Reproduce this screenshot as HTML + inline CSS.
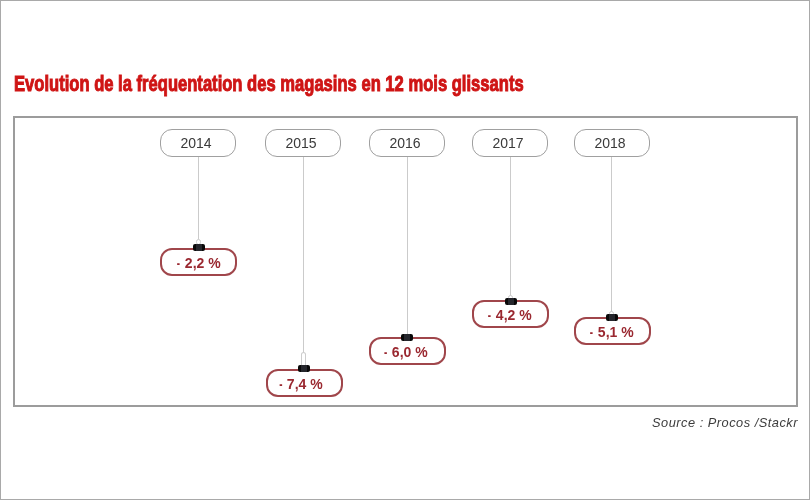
<!DOCTYPE html>
<html>
<head>
<meta charset="utf-8">
<style>
html,body{margin:0;padding:0;background:#fff;}
body{width:810px;height:500px;position:relative;overflow:hidden;font-family:"Liberation Sans",sans-serif;}
.frame{position:absolute;left:0;top:0;width:808px;height:498px;border:1px solid #a9a9a9;}
.title{position:absolute;left:13.6px;top:70.8px;white-space:nowrap;font-weight:bold;font-size:21.6px;color:#cf1515;transform-origin:0 0;line-height:26px;transform:scaleX(0.768);-webkit-text-stroke:1px #cf1515;}
.box{position:absolute;left:13px;top:116px;width:781px;height:287px;border:2px solid #9c9c9c;}
.yr{position:absolute;top:129px;width:70px;padding-right:4px;height:26px;border:1px solid #a0a0a0;border-radius:12px;text-align:center;font-size:14px;line-height:27px;color:#3a3a3a;}
.ln{position:absolute;width:1px;background:#cbcbcb;top:157px;}
.val{position:absolute;width:73px;height:24px;border:2px solid #a0464b;border-radius:12px;text-align:center;font-size:14px;font-weight:bold;line-height:26px;color:#9a2830;}
.d{display:inline-block;transform:scaleX(0.7);}
.clip{position:absolute;width:12px;height:7px;background:linear-gradient(to right,#080808 0,#080808 3px,#25262c 3px,#25262c 9px,#080808 9px);border-radius:2px;}
.ring{position:absolute;width:3px;height:3px;border:1px solid #cdcdcd;border-radius:3px;background:#fff;}
.src{position:absolute;right:12px;top:414.5px;font-style:italic;font-size:12.8px;letter-spacing:0.5px;color:#3c3c3c;white-space:nowrap;line-height:16px;}
</style>
</head>
<body>
<div class="frame"></div>
<div class="title" id="title">Evolution de la fréquentation des magasins en 12 mois glissants</div>
<div class="box"></div>

<div class="yr" style="left:160px">2014</div>
<div class="yr" style="left:265px">2015</div>
<div class="yr" style="left:369px">2016</div>
<div class="yr" style="left:472px">2017</div>
<div class="yr" style="left:574px">2018</div>

<div class="ln" style="left:198px;height:83px"></div>
<div class="ln" style="left:303px;height:196px"></div>
<div class="ln" style="left:407px;height:177px"></div>
<div class="ln" style="left:510px;height:139px"></div>
<div class="ln" style="left:611px;height:155px"></div>

<div class="ring" style="left:196px;top:239px;height:4px"></div>
<div class="ring" style="left:301px;top:352px;height:13px;border-radius:3px 3px 1px 1px"></div>
<div class="ring" style="left:508px;top:295px;height:3px"></div>
<div class="ring" style="left:609px;top:311px;height:3px"></div>

<div class="val" style="left:160px;top:248px"><span class="d">-</span> 2,2 %</div>
<div class="val" style="left:266px;top:369px;text-indent:-4px"><span class="d">-</span> 7,4 %</div>
<div class="val" style="left:369px;top:337px;text-indent:-2px"><span class="d">-</span> 6,0 %</div>
<div class="val" style="left:472px;top:300px;text-indent:-1px"><span class="d">-</span> 4,2 %</div>
<div class="val" style="left:574px;top:317px;text-indent:-1px"><span class="d">-</span> 5,1 %</div>

<div class="clip" style="left:193px;top:244px"></div>
<div class="clip" style="left:298px;top:365px"></div>
<div class="clip" style="left:401px;top:334px"></div>
<div class="clip" style="left:505px;top:298px"></div>
<div class="clip" style="left:606px;top:314px"></div>

<div class="src">Source : Procos /Stackr</div>
</body>
</html>
